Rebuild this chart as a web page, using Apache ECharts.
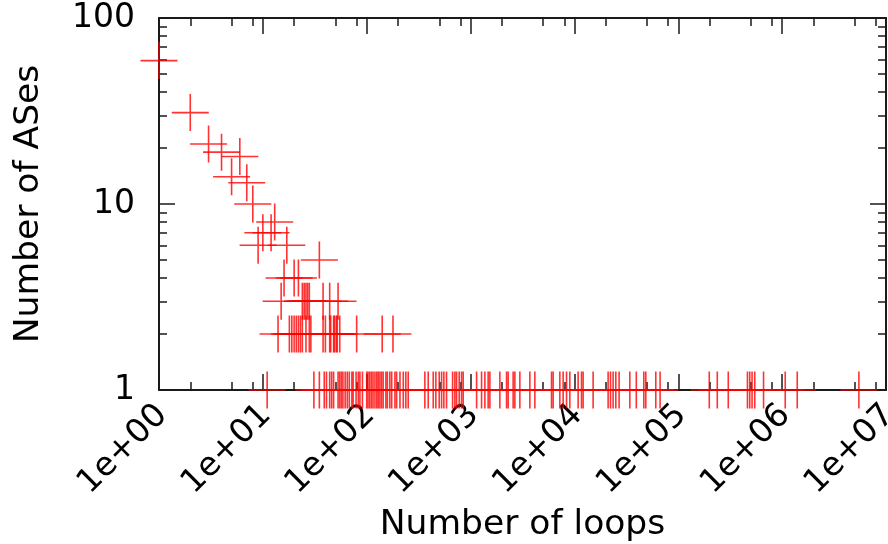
<!DOCTYPE html>
<html><head><meta charset="utf-8">
<script src="https://cdn.jsdelivr.net/npm/echarts@6/dist/echarts.min.js"></script>
<style>html,body{margin:0;padding:0;background:#fff}#c{width:888px;height:544px}</style>
</head><body><div id="c"></div>
<script>
// Tick positions
const xMajorTicks = [1, 10, 100, 1e3, 1e4, 1e5, 1e6, 1e7];
const xMinorTicks = [2, 5, 8, 20, 50, 80, 200, 500, 800, 2e3, 5e3, 8e3, 2e4, 5e4, 8e4, 2e5, 5e5, 8e5, 2e6, 5e6, 8e6];
const yMajorTicks = [1, 10, 100];
const yMinorTicks = [2, 3, 4, 5, 6, 7, 8, 9, 20, 30, 40, 50, 60, 70, 80, 90];

// Number of loops observed for each "Number of ASes" level
const loopsFor59 = [1];
const loopsFor31 = [2];
const loopsFor21 = [3];
const loopsFor19 = [4];
const loopsFor18 = [6];
const loopsFor14 = [5];
const loopsFor13 = [7];
const loopsFor10 = [8];
const loopsFor8 = [13];
const loopsFor7 = [10, 12];
const loopsFor6 = [9, 17];
const loopsFor5 = [35];
const loopsFor4 = [16, 20, 22];
const loopsFor3 = [15, 24, 25, 26, 27, 28, 38, 44, 53];
const loopsFor2 = [14, 18, 19, 20, 21, 22, 23, 24, 26, 28, 29, 38, 40, 44, 45, 48, 49, 51, 52, 55, 80, 141, 179];
const loopsFor1 = [11, 31, 35, 39, 41, 44, 46, 48, 53, 55, 57, 59, 62, 65, 68, 72, 74, 79, 83, 86, 91,
  100, 103, 107, 111, 115, 120, 125, 129, 134, 139, 144, 153, 158, 167, 174, 187, 194, 209, 225, 238, 251,
  363, 391, 437, 463, 499, 526, 553, 587, 671, 706, 733, 777, 819, 849,
  1143, 1276, 1373, 1477, 1534, 1914, 2221, 2301, 2570, 2669, 2982, 3722, 4158, 6020, 6237, 7236, 7786, 8394, 9031,
  10853, 11705, 12127, 15136, 21108, 22262, 23582, 25032, 26931, 34144, 39428, 46559, 48668, 60731, 66803,
  198791, 237409, 302853, 463447, 487720, 513300, 545000, 662200,
  1071000, 1397700, 5482000];

const asesLevels = [59, 31, 21, 19, 18, 14, 13, 10, 8, 7, 6, 5, 4, 3, 2, 1];
const loopsLists = [loopsFor59, loopsFor31, loopsFor21, loopsFor19, loopsFor18, loopsFor14, loopsFor13,
  loopsFor10, loopsFor8, loopsFor7, loopsFor6, loopsFor5, loopsFor4, loopsFor3, loopsFor2, loopsFor1];

const points = [];
asesLevels.forEach((n, i) => loopsLists[i].forEach(l => points.push([l, n])));

const FONT = 'DejaVu Sans';
const FS = 33;
const FST = 34.5;
const AX = '#1a1a1a';
function xAx(pos, major, showLabel, showLine) {
  return {
    type: 'log', logBase: 10, min: 1, max: 1e7, position: pos, gridIndex: 0,
    axisLine: { show: showLine, lineStyle: { color: AX, width: 2 } },
    axisTick: { show: true, inside: true, length: major ? 16 : 8, customValues: major ? xMajorTicks : xMinorTicks,
      lineStyle: { color: AX, width: 1.5 } },
    axisLabel: showLabel ? {
      show: true, customValues: xMajorTicks, rotate: 45, margin: 0, verticalAlign: 'top', padding: [0, 12, 0, 0],
      fontFamily: FONT, fontSize: FS, color: '#000', hideOverlap: false,
      formatter: v => '1e+' + String(Math.round(Math.log10(v))).padStart(2, '0')
    } : { show: false },
    splitLine: { show: false }, minorTick: { show: false }
  };
}
function yAx(pos, major, showLabel, showLine) {
  return {
    type: 'log', logBase: 10, min: 1, max: 100, position: pos, gridIndex: 0,
    axisLine: { show: showLine, lineStyle: { color: AX, width: 2 } },
    axisTick: { show: true, inside: true, length: major ? 16 : 8, customValues: major ? yMajorTicks : yMinorTicks,
      lineStyle: { color: AX, width: 1.5 } },
    axisLabel: showLabel ? {
      show: true, customValues: yMajorTicks, margin: 24, fontFamily: FONT, fontSize: FS, color: '#000',
      formatter: v => String(Math.round(v))
    } : { show: false },
    splitLine: { show: false }, minorTick: { show: false }
  };
}

const xMain = xAx('bottom', true, true, true);
xMain.name = 'Number of loops';
xMain.nameLocation = 'middle';
xMain.nameGap = 117;
xMain.nameTextStyle = { fontFamily: FONT, fontSize: FST, color: '#000' };

const yMain = yAx('left', true, true, true);
yMain.name = 'Number of ASes';
yMain.nameLocation = 'middle';
yMain.nameGap = 112;
yMain.nameTextStyle = { fontFamily: FONT, fontSize: FST, color: '#000' };

const chart = echarts.init(document.getElementById('c'), null, { renderer: 'canvas' });
chart.setOption({
  animation: false,
  backgroundColor: '#fff',
  grid: { left: 159, right: 2, top: 18, bottom: 154, containLabel: false, outerBoundsMode: 'none' },
  xAxis: [xMain, xAx('bottom', false, false, false), xAx('top', true, false, true), xAx('top', false, false, false)],
  yAxis: [yMain, yAx('left', false, false, false), yAx('right', true, false, true), yAx('right', false, false, false)],
  series: [{
    type: 'scatter', xAxisIndex: 0, yAxisIndex: 0,
    data: points,
    symbol: 'path://M0,1L2,1M1,0L1,2',
    symbolSize: 37,
    clip: false,
    itemStyle: { color: 'transparent', borderColor: 'rgba(255,0,0,0.8)', borderWidth: 1.6, opacity: 1 },
    emphasis: { disabled: true },
    silent: true
  }]
});
</script></body></html>
